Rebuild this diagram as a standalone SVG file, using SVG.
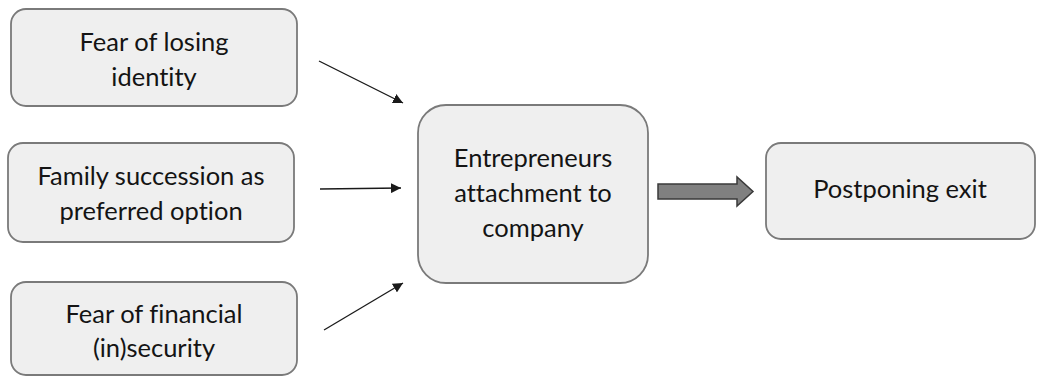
<svg xmlns="http://www.w3.org/2000/svg" width="1042" height="378" viewBox="0 0 1042 378">
<style>
.box{fill:#efefef;stroke:#7a7a7a;stroke-width:1.8}
.t{font-family:Lato,"Open Sans","Liberation Sans",sans-serif;font-size:25.5px;fill:#141414;text-anchor:middle;font-variant-ligatures:none}
.c{stroke:#1a1a1a;stroke-width:1.3;fill:none}
</style>
<defs>
<marker id="ah" viewBox="0 0 10 10" refX="10" refY="5" markerWidth="10" markerHeight="10" markerUnits="userSpaceOnUse" orient="auto">
<path d="M0,0 L10,5 L0,10 z" fill="#1a1a1a"/>
</marker>
</defs>
<rect width="1042" height="378" fill="#ffffff"/>
<g id="n1"><rect class="box" x="11" y="9" width="286" height="97" rx="15"/>
<text class="t" x="154" y="51">Fear of losing</text><text class="t" x="154" y="86">identity</text></g>
<g id="n2"><rect class="box" x="8" y="143" width="286" height="99" rx="15"/>
<text class="t" x="151" y="185">Family succession as</text><text class="t" x="151" y="220">preferred option</text></g>
<g id="n3"><rect class="box" x="11" y="282" width="286" height="93" rx="15"/>
<text class="t" x="154" y="323">Fear of financial</text><text class="t" x="154" y="357">(in)security</text></g>
<g id="n4"><rect class="box" x="418" y="105" width="230" height="178" rx="28"/>
<text class="t" x="533" y="167">Entrepreneurs</text><text class="t" x="533" y="202">attachment to</text><text class="t" x="533" y="237">company</text></g>
<g id="n5"><rect class="box" x="766" y="143" width="269" height="96" rx="15"/>
<text class="t" x="900" y="198">Postponing exit</text></g>
<g id="connectors">
<line class="c" x1="319" y1="61" x2="403" y2="103" marker-end="url(#ah)"/>
<line class="c" x1="320" y1="189" x2="401" y2="188" marker-end="url(#ah)"/>
<line class="c" x1="324" y1="330" x2="403" y2="283" marker-end="url(#ah)"/>
<path d="M658,184 L737,184 L737,177 L753,191.5 L737,206 L737,199 L658,199 z" fill="#808080" stroke="#3a3a3a" stroke-width="1.5"/>
</g>
</svg>
